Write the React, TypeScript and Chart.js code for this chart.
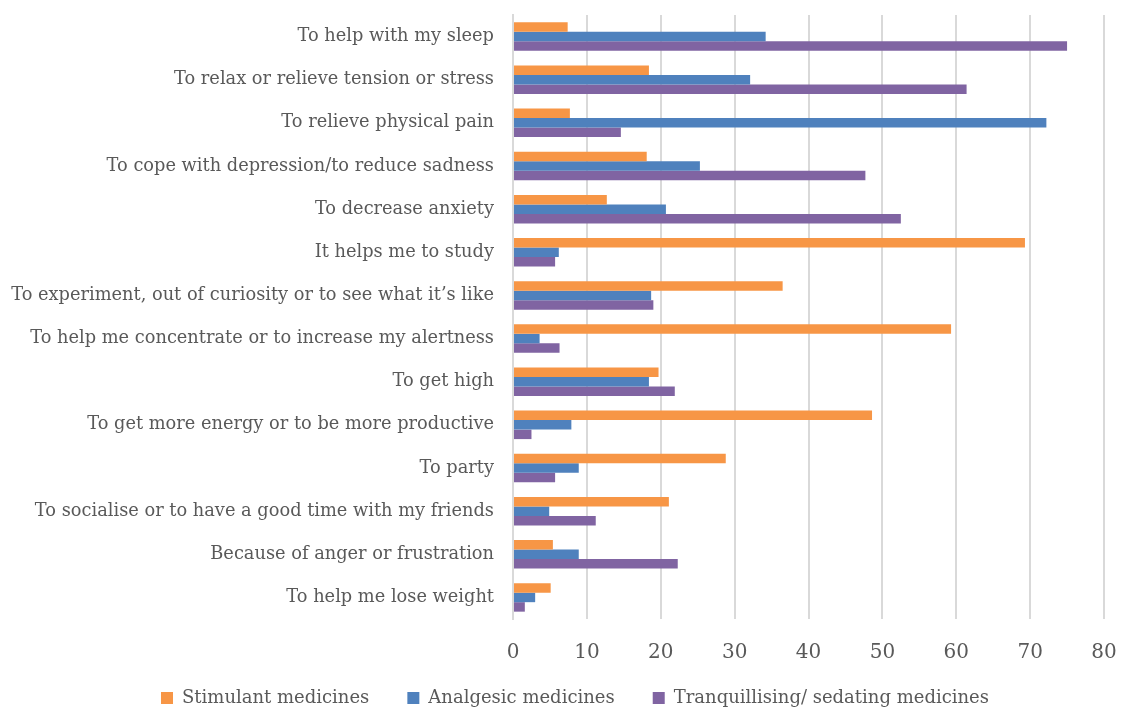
import React, { useEffect, useRef } from "react";
import { Chart, registerables } from "chart.js";

Chart.register(...registerables);

const categories = [
  "To help with my sleep",
  "To relax or relieve tension or stress",
  "To relieve physical pain",
  "To cope with depression/to reduce sadness",
  "To decrease anxiety",
  "It helps me to study",
  "To experiment, out of curiosity or to see what it\u2019s like",
  "To help me concentrate or to increase my alertness",
  "To get high",
  "To get more energy or to be more productive",
  "To party",
  "To socialise or to have a good time with my friends",
  "Because of anger or frustration",
  "To help me lose weight",
];

const stimulant = [7.4, 18.4, 7.7, 18.1, 12.7, 69.3, 36.5, 59.3, 19.7, 48.6, 28.8, 21.1, 5.4, 5.1];
const analgesic = [34.2, 32.1, 72.2, 25.3, 20.7, 6.2, 18.7, 3.6, 18.4, 7.9, 8.9, 4.9, 8.9, 3.0];
const tranquillising = [75.0, 61.4, 14.6, 47.7, 52.5, 5.7, 19.0, 6.3, 21.9, 2.5, 5.7, 11.2, 22.3, 1.6];

const seriesNames = ["Stimulant medicines", "Analgesic medicines", "Tranquillising/ sedating medicines"];
const seriesColors = ["#F79646", "#4F81BD", "#8064A2"];

const FONT = "'DejaVu Serif', 'Liberation Serif', serif";

const legendShift = {
  id: "legendShift",
  afterLayout(chart: any) {
    const l = chart.legend;
    if (l) {
      l.left += 23;
      l.right += 23;
      l.top -= 15;
      l.height += 15;
    }
  },
};

export default function App() {
  const ref = useRef<HTMLCanvasElement | null>(null);
  useEffect(() => {
    if (!ref.current) return;
    const values = [stimulant, analgesic, tranquillising];
    const chart = new Chart(ref.current, {
      type: "bar",
      data: {
        labels: categories,
        datasets: seriesNames.map((name, i) => ({
          label: name,
          data: values[i],
          backgroundColor: seriesColors[i],
          borderWidth: 0,
          categoryPercentage: 0.66,
          barPercentage: 1.0,
        })),
      },
      options: {
        indexAxis: "y",
        animation: false,
        responsive: true,
        maintainAspectRatio: false,
        layout: { padding: { top: 15, right: 17, left: 0, bottom: 0 } },
        plugins: {
          tooltip: { enabled: false },
          legend: {
            position: "bottom",
            maxHeight: 43,
            labels: {
              boxWidth: 12,
              boxHeight: 12,
              padding: 38,
              color: "#595959",
              font: { family: FONT, size: 18 },
            },
          },
        },
        scales: {
          x: {
            min: 0,
            max: 80,
            ticks: {
              stepSize: 10,
              color: "#595959",
              padding: 22,
              font: { family: FONT, size: 20 },
            },
            grid: {
              color: "#D9D9D9",
              lineWidth: 2,
              drawTicks: false,
            },
            border: { display: false },
            afterFit: (s: any) => {
              s.height = 47;
              s.paddingLeft = 0;
              s.paddingRight = 0;
            },
          },
          y: {
            ticks: {
              color: "#595959",
              padding: 19,
              autoSkip: false,
              font: { family: FONT, size: 17.8 },
            },
            grid: { display: false, drawTicks: false },
            border: { display: true, color: "#D9D9D9", width: 2 },
            afterFit: (s: any) => {
              s.width = 513;
              s.paddingTop = 0;
              s.paddingBottom = 0;
            },
          },
        },
      },
      plugins: [legendShift],
    });
    return () => chart.destroy();
  }, []);
  return (
    <div style={{ position: "fixed", left: 0, top: 0, width: 1121, height: 709 }}>
      <canvas ref={ref} />
    </div>
  );
}
